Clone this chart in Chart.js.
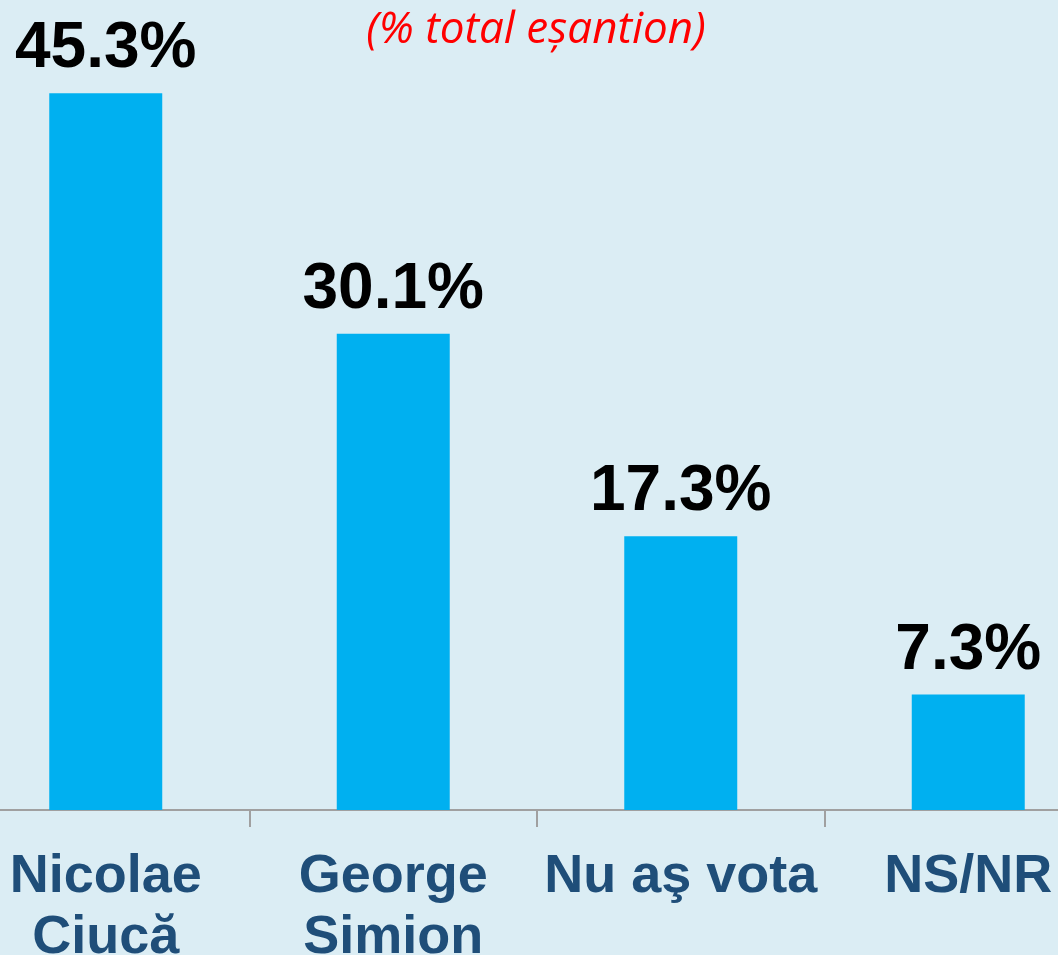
<!DOCTYPE html>
<html>
<head>
<meta charset="utf-8">
<script src="https://cdn.jsdelivr.net/npm/chart.js@4"></script>
<style>
    html, body { margin: 0; padding: 0; width: 1058px; height: 955px; overflow: hidden; background: #dbedf4; }
    #wrap { position: absolute; left: -38px; top: 0; width: 1150px; height: 955px; }
    #title { position: absolute; left: 0; width: 1072px; top: -2px; text-align: center; font-family: "Open Sans", sans-serif; font-style: italic; font-size: 44px; line-height: 56px; color: #ff0000; }
</style>
</head>
<body>
<div id="wrap"><canvas id="chart"></canvas></div>
<div id="title">(% total eșantion)</div>
<script>
// Data
const categories = [['Nicolae', 'Ciucă'], ['George', 'Simion'], 'Nu aş vota', 'NS/NR'];
const values = [45.3, 30.1, 17.3, 7.3];

// value labels above bars
const valueLabels = {
    id: 'valueLabels',
    afterDatasetsDraw(chart) {
        const ctx = chart.ctx;
        const meta = chart.getDatasetMeta(0);
        ctx.save();
        ctx.font = 'bold 64px "Liberation Sans", Arial, sans-serif';
        ctx.fillStyle = '#000000';
        ctx.textAlign = 'center';
        ctx.textBaseline = 'alphabetic';
        meta.data.forEach((bar, i) => {
            ctx.fillText(values[i].toFixed(1) + '%', bar.x, bar.y - 26);
        });
        ctx.restore();
    }
};

new Chart(document.getElementById('chart'), {
    type: 'bar',
    data: {
        labels: categories,
        datasets: [{
            data: values,
            backgroundColor: '#00b0f0',
            categoryPercentage: 1,
            barPercentage: 0.393
        }]
    },
    options: {
        responsive: true,
        maintainAspectRatio: false,
        animation: false,
        layout: { padding: 0 },
        plugins: {
            legend: { display: false },
            tooltip: { enabled: false }
        },
        scales: {
            x: {
                afterFit: (scale) => { scale.height = 145; },
                grid: {
                    offset: true,
                    drawOnChartArea: false,
                    drawTicks: true,
                    tickLength: 17,
                    color: '#a0a0a0',
                    lineWidth: 2
                },
                border: { display: true, color: '#a0a0a0', width: 2 },
                ticks: {
                    color: '#1f4e79',
                    padding: 20,
                    maxRotation: 0,
                    autoSkip: false,
                    font: { family: '"Liberation Sans", Arial, sans-serif', size: 54, weight: 'bold', lineHeight: 1.13 }
                }
            },
            y: {
                display: false,
                min: 0,
                max: 51.2
            }
        }
    },
    plugins: [valueLabels]
});
</script>
</body>
</html>
